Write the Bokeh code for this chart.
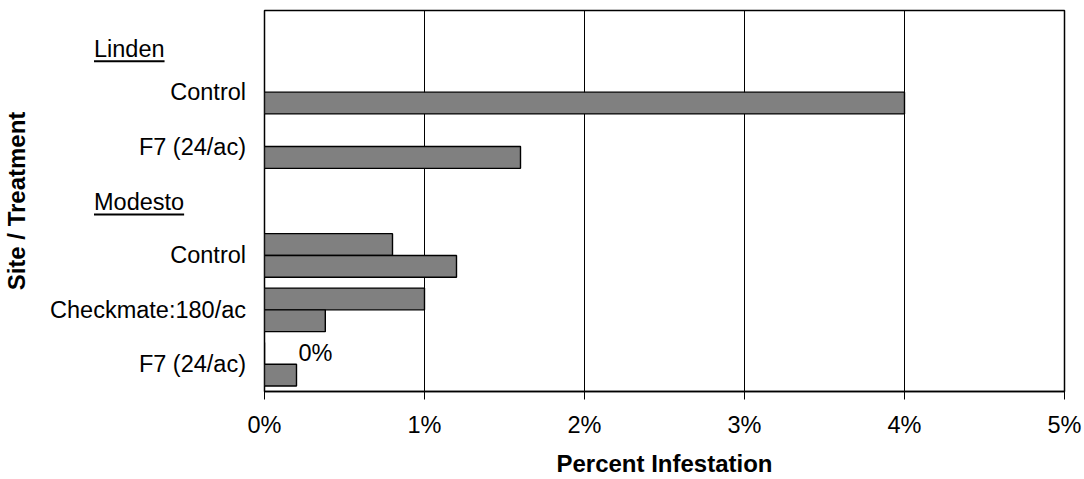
from bokeh.plotting import figure
from bokeh.layouts import row
from bokeh.models import ColumnDataSource, Range1d, FixedTicker, PrintfTickFormatter
from bokeh.transform import dodge
from bokeh.embed import file_html
from bokeh.resources import INLINE
from bokeh.core.properties import value
import math

# Rows from top to bottom: site headings followed by their treatments
rows = ["Linden", "Control", "F7 (24/ac)", "Modesto", "Control", "Checkmate:180/ac", "F7 (24/ac)"]
is_site = [True, False, False, True, False, False, False]

# Percent infestation, two readings per treatment (None = not measured)
upper_pct = [None, None, None, None, 0.8, 1.0, 0.0]
lower_pct = [None, 4.0, 1.6, None, 1.2, 0.38, 0.2]

x_ticks = [0, 1, 2, 3, 4, 5]

FONT = "Liberation Sans"
LABEL_SIZE = 23.5
BAR_FILL = "#808080"

W, H = 1084, 479
LEFT_W = 247          # width of the label panel
FRAME_LEFT = 264      # page x of the plot frame's left edge
TOP, BOTTOM = 10, 88
n_rows = len(rows)
frame_h = H - TOP - BOTTOM
px_per_row = frame_h / n_rows

# ---------------- bar sources ----------------
def bar_source(vals, name):
    idx = [i for i, v in enumerate(vals) if v is not None]
    return ColumnDataSource(dict(
        pos=[i + 0.5 for i in idx],
        pct=[vals[i] for i in idx],
        label=[f"{vals[i]:.0f}%" for i in idx],
        series=[name] * len(idx),
    ))

src_upper = bar_source(upper_pct, "upper")
src_lower = bar_source(lower_pct, "lower")

y_range = Range1d(n_rows, 0)

# ---------------- main chart ----------------
p = figure(width=W - LEFT_W, height=H, x_range=Range1d(0, 5), y_range=y_range,
           output_backend="svg", toolbar_location=None, y_axis_location=None,
           min_border_left=FRAME_LEFT - LEFT_W, min_border_right=20,
           min_border_top=TOP, min_border_bottom=BOTTOM)
p.background_fill_color = "white"
p.border_fill_color = "white"
p.outline_line_color = "black"
p.outline_line_width = 1.5

bar_h = 0.4
for src, shift in ((src_upper, -bar_h / 2), (src_lower, bar_h / 2)):
    p.hbar(y=dodge("pos", shift, range=y_range), left=0, right="pct", height=bar_h,
           source=src, fill_color=BAR_FILL, line_color="black", line_width=1.4)

# value label for readings whose bar has no visible length
zero_idx = [i for i, v in enumerate(src_upper.data["pct"]) if v == 0]
zero_src = ColumnDataSource(dict(
    pos=[src_upper.data["pos"][i] for i in zero_idx],
    pct=[src_upper.data["pct"][i] for i in zero_idx],
    label=[src_upper.data["label"][i] for i in zero_idx],
))
p.text(x="pct", y=dodge("pos", -bar_h / 2, range=y_range), text="label", source=zero_src,
       x_offset=34, text_align="left", text_baseline="middle",
       text_font=value(FONT), text_font_size=f"{LABEL_SIZE}px", text_color="black")

xa = p.xaxis[0]
xa.ticker = FixedTicker(ticks=x_ticks)
xa.formatter = PrintfTickFormatter(format="%d%%")
xa.axis_line_color = "black"
xa.axis_line_width = 1.5
xa.major_tick_line_color = "black"
xa.major_tick_out = 8
xa.major_tick_in = 0
xa.minor_tick_out = 0
xa.minor_tick_in = 0
xa.major_label_text_font = FONT
xa.major_label_text_font_size = f"{LABEL_SIZE}px"
xa.major_label_text_color = "black"
xa.major_label_standoff = 12
xa.axis_label = "Percent Infestation"
xa.axis_label_text_font = FONT
xa.axis_label_text_font_style = "bold"
xa.axis_label_text_font_size = "24px"
xa.axis_label_text_color = "black"
xa.axis_label_standoff = 9

p.xgrid.ticker = FixedTicker(ticks=x_ticks)
p.xgrid.grid_line_color = "black"
p.xgrid.grid_line_width = 1
p.ygrid.visible = False

# ---------------- label panel ----------------
lp = figure(width=LEFT_W, height=H, x_range=Range1d(0, LEFT_W), y_range=y_range,
            output_backend="svg", toolbar_location=None,
            x_axis_location=None, y_axis_location=None,
            min_border_left=0, min_border_right=0,
            min_border_top=TOP, min_border_bottom=BOTTOM)
lp.outline_line_color = None
lp.background_fill_color = "white"
lp.border_fill_color = "white"
lp.xgrid.visible = False
lp.ygrid.visible = False

treat_src = ColumnDataSource(dict(
    pos=[i + 0.5 for i, s in enumerate(is_site) if not s],
    name=[rows[i] for i, s in enumerate(is_site) if not s],
))
lp.text(x=245.5, y="pos", text="name", source=treat_src,
        text_align="right", text_baseline="middle",
        text_font=value(FONT), text_font_size=f"{LABEL_SIZE}px", text_color="black")

# site headings, underlined
ADV = {"L": 556, "i": 222, "n": 556, "d": 556, "e": 556, "M": 833,
       "o": 556, "s": 500, "t": 278}

def text_px(s, size):
    return sum(ADV.get(c, 556) for c in s) * size / 1000.0

site_names = [rows[i] for i, s in enumerate(is_site) if s]
site_pos = [i + 0.5 for i, s in enumerate(is_site) if s]
site_shift_px = [11, 1][:len(site_names)]
site_x = 93.5
site_src = ColumnDataSource(dict(
    pos=[p_ + d / px_per_row for p_, d in zip(site_pos, site_shift_px)],
    name=site_names,
))
lp.text(x=site_x, y="pos", text="name", source=site_src,
        text_align="left", text_baseline="middle",
        text_font=value(FONT), text_font_size=f"{LABEL_SIZE}px", text_color="black")
ul_y = [y + 12.5 / px_per_row for y in site_src.data["pos"]]
lp.segment(x0=[site_x] * len(site_names),
           x1=[site_x + text_px(s, LABEL_SIZE) for s in site_names],
           y0=ul_y, y1=ul_y, line_color="black", line_width=2)

# vertical axis title
lp.text(x=[16], y=[n_rows / 2], text=["Site / Treatment"], angle=math.pi / 2,
        text_align="center", text_baseline="middle",
        text_font=value(FONT), text_font_style="bold", text_font_size="24px",
        text_color="black")

layout = row(lp, p)
open("out.html", "w").write(file_html(layout, INLINE))
